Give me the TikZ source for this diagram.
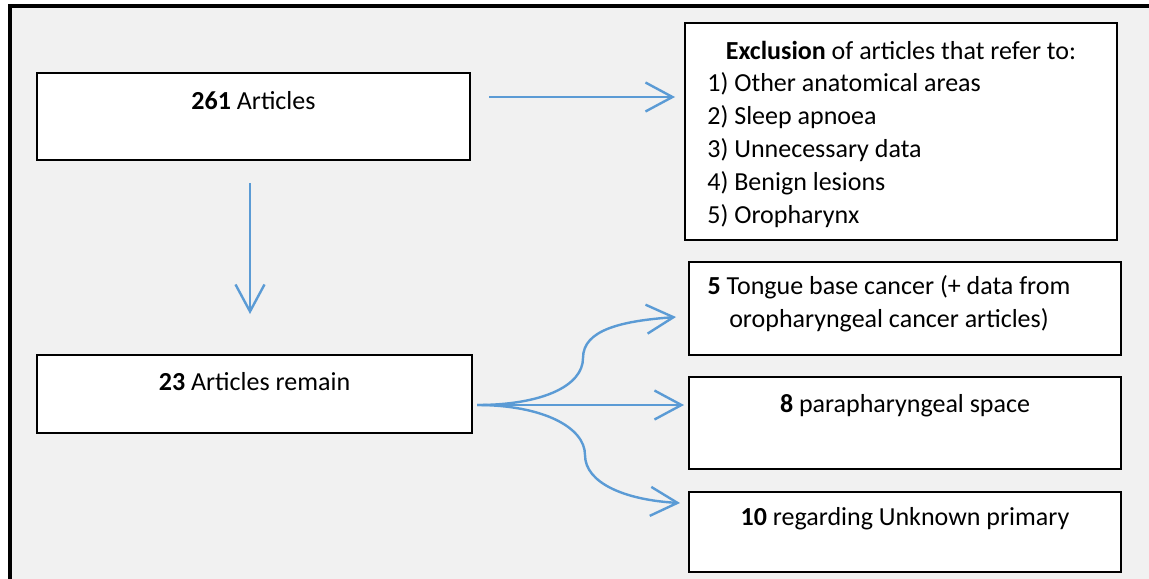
\documentclass[tikz,border=0pt]{standalone}
\usepackage{fontspec}
\setmainfont{Carlito}
\usetikzlibrary{arrows.meta,calc}
\definecolor{flowblue}{HTML}{5B9BD5}
\definecolor{panel}{HTML}{F1F1F1}

\begin{document}
\begin{tikzpicture}[x=0.5pt, y=-0.5pt,
    font=\fontsize{13}{16.4}\selectfont,
    box/.style={draw, fill=white, line width=1pt, inner sep=0pt},
    flow/.style={flowblue, line width=1.2pt, -{Straight Barb[length=13.5pt, width=14.5pt]}}]
    \useasboundingbox (0,0) rectangle (1149,578);
    \clip (0,0) rectangle (1149,578);
    \fill[panel] (10,6) rectangle (1170,600);
    \draw[line width=2pt] (10,600) -- (10,6) -- (1170,6);
    \node[box, minimum width=216.5pt, text height=18pt, text depth=25.5pt] (art261) at (253.5,116.5) {\textbf{261} Articles};
    \node[box, minimum width=216pt, text height=18pt, text depth=90.5pt] (excl) at (901,131.5) {\textbf{Exclusion} of articles that refer to:};
    \foreach \i/\lbl in {1/Other anatomical areas, 2/Sleep apnoea, 3/Unnecessary data, 4/Benign lesions, 5/Oropharynx}
        {\node[anchor=base west, inner sep=0pt] (excl\i) at (707,{59+32.8*\i}) {\i) \lbl};}
    \node[box, minimum width=217.5pt, text height=17.5pt, text depth=21.5pt] (art23) at (254.5,394) {\textbf{23} Articles remain};
    \node[box, minimum width=216pt, minimum height=46.5pt] (tongue) at (905,308.5) {};
    \node[align=center, anchor=base, inner sep=0pt] (tonguetxt) at (889,327) {\textbf{5} Tongue base cancer (+ data from\\oropharyngeal cancer articles)};
    \node[box, minimum width=216pt, text height=17.5pt, text depth=28.5pt] (para) at (905,423) {\textbf{8} parapharyngeal space};
    \node[box, minimum width=216pt, text height=16.5pt, text depth=23.5pt] (unkn) at (905,532) {\textbf{10} regarding Unknown primary};
    \coordinate (fan) at ($(art23.east)+(4,11)$);
    \coordinate (bendup) at (583,358);
    \coordinate (benddown) at (585,455);
    \draw[flow] ($(art261.east)+(18,-19.5)$) -- ($(excl.west)+(-9,-34.5)$);
    \draw[flow] ($(art261.south)+(-3.5,22)$) -- ($(art23.north)+(-4.5,-40)$);
    \draw[flow] (fan) -- ($(para.west)+(-4,-18)$);
    \draw[flow] (fan) .. controls +(65,0) and +(0,28) .. (bendup) .. controls +(0,-28) and +(-55,4) .. ($(tongue.west)+(-12,8.5)$);
    \draw[flow] (fan) .. controls +(65,0) and +(0,-28) .. (benddown) .. controls +(0,28) and +(-55,-3) .. ($(unkn.west)+(-8,-29)$);
\end{tikzpicture}
\end{document}
